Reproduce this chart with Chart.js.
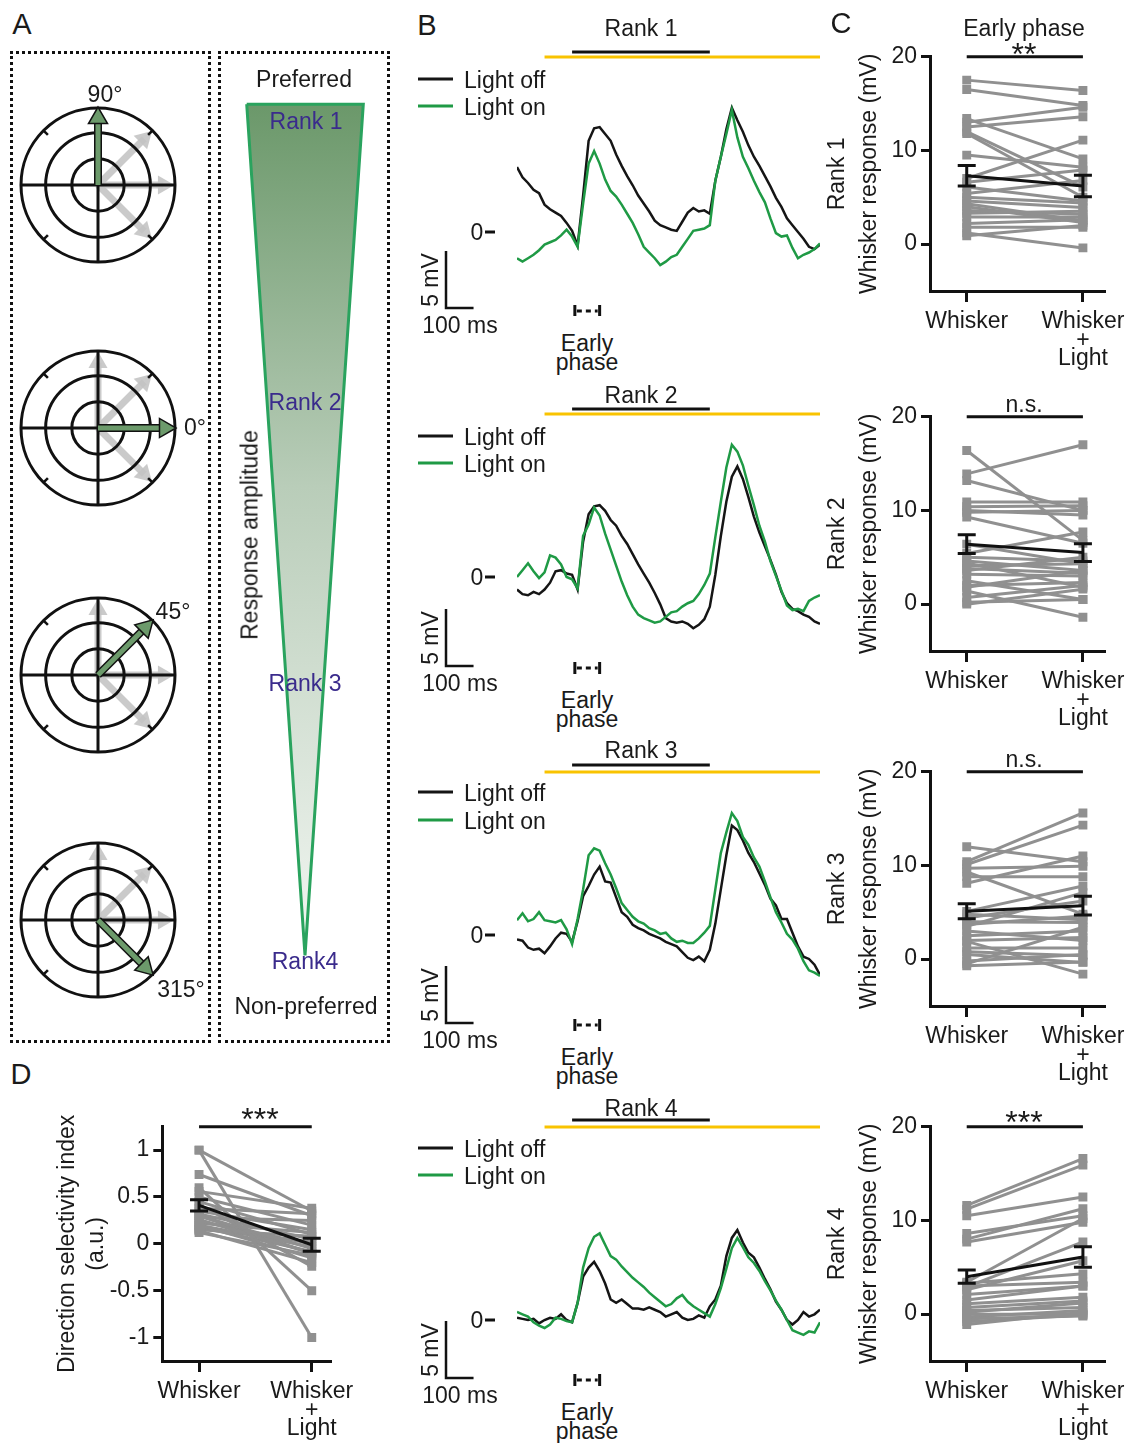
<!DOCTYPE html>
<html><head><meta charset="utf-8">
<script src="https://cdn.jsdelivr.net/npm/chart.js@4.4.1/dist/chart.umd.min.js"></script>
<style>
html,body{margin:0;padding:0;background:#fff;}
#root{position:relative;width:1132px;height:1443px;overflow:hidden;background:#fff;font-family:'Liberation Sans',Arial,Helvetica,sans-serif;color:#1a1a1a;}
canvas{position:absolute;}
.lbl{position:absolute;white-space:nowrap;line-height:1;}
.box{position:absolute;border:3px dotted #111;box-sizing:border-box;}
</style></head><body><div id="root"></div>
<script>
// ================= DATA =================
// Panel A: polar plots (direction in degrees) and wedge
const polarPreferred = [90, 0, 45, 315];
const polarDirections = [0, 45, 90, 315];
const polarRings = [0.34, 0.68, 1.0];
const polarGrayLength = 0.98;
const polarGreenLength = 1.0;
const wedgeRank = [0.94, 0.94, 3.98, 0.94];
const wedgeHalfWidth = [-1, 1, 0, -1];
const rankNames = ['Rank 1', 'Rank 2', 'Rank 3', 'Rank4'];

// Panel B: traces (time in ms, membrane potential in mV)
const time = [-200,-180,-160,-140,-120,-100,-80,-60,-40,-20,0,20,40,60,80,100,120,140,160,180,200,220,240,260,280,300,320,340,360,380,400,420,440,460,480,500,520,540,560,580,600,620,640,660,680,700,720,740,760,780,800,820,840,860,880,900];
const rank1Off = [5.7,4.8,4.3,3.7,3.4,2.4,2.0,1.7,1.4,0.8, 0.1,-1.2,3.2,8.0,9.1,9.2,8.6,8.0,6.8,5.8, 4.9,4.1,3.2,2.5,1.8,1.0,0.6,0.4,0.2,0.1, 0.9,1.7,2.1,1.8,1.9,1.6,4.5,6.6,9.0,10.9, 9.8,8.8,7.6,6.6,5.8,4.9,4.0,3.0,2.2,1.2, 0.6,0.0,-0.6,-1.3,-1.5,-1.1];
const rank1On  = [-2.3,-2.6,-2.3,-2.0,-1.6,-1.1,-0.9,-0.7,-0.3,0.2, -0.4,-1.3,2.5,6.0,7.1,6.0,4.6,3.6,3.1,2.4, 1.6,0.8,-0.2,-1.3,-1.8,-2.3,-2.9,-2.6,-2.2,-2.0, -1.3,-0.6,0.1,0.2,0.3,0.6,4.5,6.6,8.6,10.7, 8.3,6.6,5.6,4.5,3.5,2.6,1.2,-0.1,-0.4,-0.3, -1.4,-2.3,-2.0,-1.8,-1.5,-1.0];
const rank2Off = [-1.1,-1.5,-1.6,-1.3,-1.5,-1.1,-0.5,0.5,0.6,0.3, 0.2,-1.1,3.1,5.5,6.2,6.3,5.8,5.0,4.5,3.6, 2.9,2.0,1.1,0.3,-0.5,-1.4,-2.4,-3.6,-3.9,-4.0, -3.9,-4.1,-4.5,-4.2,-3.7,-2.6,0.2,3.6,6.6,8.8, 9.7,8.6,7.0,5.3,3.9,2.7,1.5,0.2,-1.3,-2.3, -2.8,-3.0,-3.3,-3.5,-3.9,-4.1];
const rank2On  = [0.0,0.6,1.2,0.5,-0.1,0.4,1.9,1.7,1.1,0.0, -0.2,-1.0,3.6,4.6,6.1,5.4,3.8,2.4,1.0,-0.4, -1.6,-2.6,-3.3,-3.6,-3.8,-4.0,-3.9,-3.5,-3.1,-3.0, -2.6,-2.3,-2.1,-1.5,-0.7,0.3,3.5,6.6,9.6,11.6, 11.0,9.8,8.0,6.3,4.5,3.1,1.4,0.1,-1.2,-2.5, -2.9,-2.8,-3.0,-2.1,-1.8,-1.6];
const rank3Off = [-0.4,-0.5,-1.1,-1.3,-1.2,-1.6,-1.0,-0.3,0.2,0.1, -0.6,1.2,3.4,4.3,5.3,6.0,4.7,4.6,3.3,2.0, 1.6,0.9,0.6,0.4,0.1,-0.1,-0.3,-0.6,-0.8,-1.0, -1.5,-2.0,-2.2,-1.9,-2.3,-1.3,1.0,4.0,7.0,9.6, 9.2,8.3,7.2,6.4,5.4,4.4,3.2,2.6,1.4,1.4, 0.2,-1.0,-1.9,-2.1,-2.6,-3.5];
const rank3On  = [1.3,1.9,1.2,1.4,2.0,1.3,1.2,1.1,1.3,0.5, -0.8,1.4,4.0,7.0,7.6,7.4,6.3,5.3,4.1,2.8, 2.2,1.6,1.2,1.0,0.6,0.4,0.1,0.2,-0.3,-0.6, -0.5,-0.7,-0.7,-0.3,0.2,0.8,4.0,7.2,9.0,10.7, 10.0,8.6,7.9,6.8,6.0,4.7,3.3,2.0,1.1,0.1, -0.4,-1.2,-2.3,-3.1,-3.3,-3.6];
const rank4Off = [0.2,0.1,0.0,0.1,-0.3,0.0,0.2,0.1,0.5,0.0, -0.2,1.5,3.8,4.6,5.1,4.3,3.2,1.8,1.5,1.8, 1.4,1.0,1.0,0.9,1.1,0.9,0.7,0.3,0.5,0.7, 0.2,0.0,0.1,0.4,0.2,1.2,1.8,3.0,5.6,7.2, 7.9,6.8,5.9,5.5,4.6,3.6,2.7,1.6,0.9,0.0, -0.4,0.0,0.7,0.3,0.5,0.9];
const rank4On  = [0.7,0.5,0.3,-0.2,-0.5,-0.7,-0.4,0.2,0.1,-0.1, -0.2,1.5,4.6,6.3,7.3,7.6,6.6,5.6,5.3,4.7, 4.2,3.7,3.3,2.9,2.4,2.0,1.6,1.2,1.4,1.9, 2.2,1.6,1.2,0.9,0.6,0.3,1.4,2.8,4.5,6.3, 7.2,6.4,5.5,5.0,4.3,3.4,2.6,1.7,0.9,0.0, -0.9,-1.1,-1.3,-1.0,-1.1,-0.2];
const whiskerWindow = [0, 500];
const lightWindow = [-100, 900];
const earlyPhase = [10, 100];
const scaleBarMs = 100;
const scaleBarMV = 5;
const legendLabels = ['Light off', 'Light on'];

// Panel C: paired whisker responses (mV)
const pairLabels = ['Whisker', ['Whisker', '+', 'Light']];
const yTicksC = [0, 10, 20];
const rank1Whisker = [17.5,16.5,13.4,13.0,12.5,12.0,11.8,9.5,6.6,6.1,5.4,4.6,4.3,3.6,2.9,1.8,1.2,0.9,7.0,5.0,3.3,4.0,2.2];
const rank1Light   = [16.4,14.8,9.1,14.6,13.6,6.1,5.0,8.2,7.9,4.6,6.8,3.9,2.5,3.2,2.9,1.8,-0.4,2.0,11.1,4.4,3.5,2.3,2.6];
const rank1Mean = [7.3, 6.2], rank1Sem = [1.1, 1.15];
const rank2Whisker = [16.4,13.9,13.2,10.9,10.4,10.0,9.8,9.3,6.4,5.4,4.6,4.4,4.1,3.6,3.2,2.5,2.0,1.8,1.4,0.7,0.2,0.0,5.0,3.8];
const rank2Light   = [6.8,17.0,10.0,10.9,10.5,9.5,10.0,6.5,4.3,7.7,3.6,1.8,4.3,5.0,3.0,0.5,2.3,3.6,-1.4,2.0,0.5,1.6,4.6,3.3];
const rank2Mean = [6.4, 5.5], rank2Sem = [1.0, 0.95];
const rank3Whisker = [12.0,10.4,10.1,9.7,8.8,8.1,9.3,5.1,4.4,4.0,3.7,3.5,2.5,2.0,1.9,1.2,0.8,0.5,-0.2,-0.5,-0.7,4.8,3.0];
const rank3Light   = [10.4,15.6,14.3,9.9,8.8,11.0,4.8,7.8,6.2,3.9,4.6,7.1,3.0,2.3,-1.6,1.2,0.35,-0.35,0.5,3.4,-0.3,4.2,2.0];
const rank3Mean = [5.1, 5.7], rank3Sem = [0.8, 1.0];
const rank4Whisker = [11.6,11.2,10.5,8.6,8.0,7.7,3.4,2.9,2.6,3.3,2.1,3.0,1.1,0.7,0.4,0.0,-0.5,-1.1,-0.8,1.5,0.2,-0.3];
const rank4Light   = [16.6,15.9,12.5,10.5,11.25,9.8,10.2,7.7,5.7,4.3,3.0,3.4,1.8,1.4,0.7,0.0,-0.2,0.2,-0.1,3.0,1.2,0.4];
const rank4Mean = [4.0, 6.1], rank4Sem = [0.7, 1.1];
const sigLabels = ['**', 'n.s.', 'n.s.', '***'];

// Panel D: direction selectivity index
const yTicksD = [-1, -0.5, 0, 0.5, 1];
const dsiWhisker = [1.0,1.0,0.74,0.6,0.56,0.5,0.45,0.42,0.38,0.35,0.32,0.3,0.28,0.26,0.24,0.22,0.2,0.18,0.16,0.14,0.12,0.2,0.3,0.15];
const dsiLight   = [0.35,-1.0,0.3,-0.5,0.38,0.2,0.1,-0.24,0.32,0.15,0.05,-0.05,0.25,-0.1,0.0,0.12,-0.15,-0.08,0.02,-0.2,-0.12,-0.03,-0.1,0.08];
const dsiMean = [0.41, -0.01], dsiSem = [0.06, 0.07];

// ================= STYLE / LAYOUT =================
const FONT = "'Liberation Sans', Arial, Helvetica, sans-serif";
const TXT = '#1a1a1a', INK = '#111';
const TRACE_GREEN = '#1f9a45', YELLOW = '#f9c300', GRAY = '#909090';
const ARROW_GREEN = '#6c9a6b', ARROW_GRAY = 'rgba(196,196,196,0.9)';
const WEDGE_EDGE = '#2aa35e', RANK_PURPLE = '#3a2b8c';
const PX_PER_MV = 11.4;

Chart.defaults.font.family = FONT;
Chart.defaults.font.size = 23;
Chart.defaults.color = TXT;
Chart.defaults.animation = false;
Chart.defaults.plugins.legend.display = false;
Chart.defaults.plugins.tooltip.enabled = false;

const root = document.getElementById('root');
function makeCanvas(left, top, w, h) {
  const c = document.createElement('canvas');
  c.width = w; c.height = h;
  c.style.left = left + 'px'; c.style.top = top + 'px';
  c.style.width = w + 'px'; c.style.height = h + 'px';
  root.appendChild(c);
  return c;
}
function addText(txt, x, y, o = {}) {
  const d = document.createElement('div');
  d.className = 'lbl';
  d.textContent = txt;
  d.style.left = x + 'px'; d.style.top = y + 'px';
  d.style.fontSize = (o.size || 23) + 'px';
  d.style.color = o.color || TXT;
  const tx = o.align === 'left' ? '0' : (o.align === 'right' ? '-100%' : '-50%');
  d.style.transform = `translate(${tx},-50%)` + (o.rotate ? ` rotate(${o.rotate}deg)` : '');
  root.appendChild(d);
}
function addBox(l, t, w, h) {
  const b = document.createElement('div');
  b.className = 'box';
  Object.assign(b.style, {left: l + 'px', top: t + 'px', width: w + 'px', height: h + 'px'});
  root.appendChild(b);
}
const baseOpts = () => ({responsive: false, maintainAspectRatio: false, animation: false, events: []});

// ================= PANEL A =================
addBox(10, 51, 201, 992);
addBox(218, 51, 172, 992);
addText('A', 22, 24, {size: 29});

const polarCentersY = [185, 428, 675, 920];
const rad = a => a * Math.PI / 180;
const HEAD = 0.13;
polarCentersY.forEach((cy, k) => {
  const c = makeCanvas(10, cy - 88, 176, 176);
  const lim = 88 / 77;
  const pref = polarPreferred[k];
  const ds = [];
  polarDirections.filter(a => a !== pref).forEach(a => {
    const L = polarGrayLength - HEAD;
    ds.push({data: [{x: 0, y: 0}, {x: L * Math.cos(rad(a)), y: L * Math.sin(rad(a))}], showLine: true,
      borderColor: ARROW_GRAY, borderWidth: 7, pointRadius: [0, 11], pointStyle: 'triangle', pointRotation: 90 - a,
      pointBackgroundColor: ARROW_GRAY, pointBorderWidth: 0, order: 6});
  });
  ds.push({data: polarRings.map(() => ({x: 0, y: 0})), showLine: false,
    pointRadius: cx => cx.chart.scales.x.getPixelForValue(polarRings[cx.dataIndex]) - cx.chart.scales.x.getPixelForValue(0),
    pointBackgroundColor: 'rgba(0,0,0,0)', pointBorderColor: INK, pointBorderWidth: 3, order: 4});
  ds.push({data: [{x: -1, y: 0}, {x: 1, y: 0}], showLine: true, borderColor: INK, borderWidth: 3, pointRadius: 0, order: 4});
  ds.push({data: [{x: 0, y: -1}, {x: 0, y: 1}], showLine: true, borderColor: INK, borderWidth: 3, pointRadius: 0, order: 4});
  [45, 135, 225, 315].forEach(a => ds.push({data: [{x: 0.92 * Math.cos(rad(a)), y: 0.92 * Math.sin(rad(a))}, {x: Math.cos(rad(a)), y: Math.sin(rad(a))}],
    showLine: true, borderColor: INK, borderWidth: 2.5, pointRadius: 0, order: 4}));
  const Lg = polarGreenLength - HEAD;
  const gp = [{x: 0, y: 0}, {x: Lg * Math.cos(rad(pref)), y: Lg * Math.sin(rad(pref))}];
  ds.push({data: gp, showLine: true, borderColor: INK, borderWidth: 8, pointRadius: 0, order: 2});
  ds.push({data: gp, showLine: true, borderColor: ARROW_GREEN, borderWidth: 5, pointRadius: [0, 11], pointStyle: 'triangle',
    pointRotation: 90 - pref, pointBackgroundColor: ARROW_GREEN, pointBorderColor: INK, pointBorderWidth: 1.5, order: 1});
  new Chart(c, {type: 'scatter', data: {datasets: ds}, options: Object.assign(baseOpts(), {
    layout: {padding: 0, autoPadding: false},
    scales: {x: {type: 'linear', display: false, min: -lim, max: lim}, y: {type: 'linear', display: false, min: -lim, max: lim}}
  })});
});
addText('90°', 105, 94);
addText('0°', 195, 427);
addText('45°', 173, 611);
addText('315°', 181, 989);

// Wedge
{
  const c = makeCanvas(220, 50, 170, 996);
  const wd = wedgeRank.map((r, i) => ({x: wedgeHalfWidth[i], y: r}));
  new Chart(c, {type: 'scatter', data: {datasets: [{
    data: wd, showLine: true, fill: 'shape', tension: 0, borderColor: WEDGE_EDGE, borderWidth: 3, pointRadius: 0,
    backgroundColor: cx => {
      const ch = cx.chart; if (!ch.chartArea) return '#b5cbb5';
      const ys = ch.scales.y;
      const g = ch.ctx.createLinearGradient(0, ys.getPixelForValue(wedgeRank[0]), 0, ys.getPixelForValue(wedgeRank[2]));
      g.addColorStop(0, '#6b986a'); g.addColorStop(0.45, '#b9cdb9'); g.addColorStop(1, '#f2f6f2');
      return g;
    }
  }]}, options: Object.assign(baseOpts(), {
    layout: {padding: 0, autoPadding: false},
    scales: {x: {type: 'linear', display: false, min: -1.458, max: 1.458},
             y: {type: 'linear', display: false, reverse: true, min: 0.7464, max: 4.3036}}
  })});
  addText('Preferred', 304, 79);
  const rankY = [121, 402, 683, 961];
  rankNames.forEach((n, i) => addText(n, i === 0 ? 306 : 305, rankY[i], {color: RANK_PURPLE}));
  addText('Non-preferred', 306, 1006);
  addText('Response amplitude', 250, 535, {rotate: -90});
}

// ================= PANEL B =================
addText('B', 427, 25, {size: 29});
const traceDecor = {
  id: 'traceDecor',
  afterDraw(chart, args, o) {
    const ctx = chart.ctx, xs = chart.scales.x, ys = chart.scales.y;
    const X = t => xs.getPixelForValue(t);
    const Yp = py => py - o.top;
    const Xp = px => px - 410;
    const seg = (x1, y1, x2, y2, col, w) => { ctx.strokeStyle = col; ctx.lineWidth = w; ctx.beginPath(); ctx.moveTo(x1, y1); ctx.lineTo(x2, y2); ctx.stroke(); };
    ctx.save(); ctx.lineCap = 'butt';
    seg(X(lightWindow[0]), Yp(o.yellowY), X(lightWindow[1]), Yp(o.yellowY), YELLOW, 3);
    seg(X(whiskerWindow[0]), Yp(o.blackY), X(whiskerWindow[1]), Yp(o.blackY), INK, 3);
    const dsOn = chart.data.datasets[0], dsOff = chart.data.datasets[1];
    seg(Xp(418), Yp(o.leg0), Xp(453), Yp(o.leg0), dsOff.borderColor, 3);
    seg(Xp(418), Yp(o.leg1), Xp(453), Yp(o.leg1), dsOn.borderColor, 3);
    const y0 = ys.getPixelForValue(0);
    seg(Xp(485), y0, Xp(495), y0, INK, 3);
    const sx = Xp(446), sb = Yp(o.sbBot);
    const vlen = ys.getPixelForValue(0) - ys.getPixelForValue(scaleBarMV);
    const hlen = X(scaleBarMs) - X(0);
    ctx.strokeStyle = INK; ctx.lineWidth = 2.5;
    ctx.beginPath(); ctx.moveTo(sx, sb - vlen); ctx.lineTo(sx, sb); ctx.lineTo(sx + hlen, sb); ctx.stroke();
    const by = Yp(o.bracketY), bx1 = X(earlyPhase[0]), bx2 = X(earlyPhase[1]);
    seg(bx1, by - 6, bx1, by + 6, INK, 3); seg(bx2, by - 6, bx2, by + 6, INK, 3);
    ctx.setLineDash([5, 4]); seg(bx1 + 2, by, bx2 - 2, by, INK, 3); ctx.setLineDash([]);
    ctx.restore();
  }
};
const bPanels = [
  {off: rank1Off, on: rank1On, title: 'Rank 1', titleY: 28, blackY: 52, yellowY: 57, leg0: 79, leg1: 106, zeroY: 232, sbBot: 308, bracketY: 311},
  {off: rank2Off, on: rank2On, title: 'Rank 2', titleY: 395, blackY: 409, yellowY: 414, leg0: 436, leg1: 463, zeroY: 577, sbBot: 666, bracketY: 668},
  {off: rank3Off, on: rank3On, title: 'Rank 3', titleY: 750, blackY: 765, yellowY: 772, leg0: 792, leg1: 820, zeroY: 935, sbBot: 1023, bracketY: 1025},
  {off: rank4Off, on: rank4On, title: 'Rank 4', titleY: 1108, blackY: 1120, yellowY: 1127, leg0: 1148, leg1: 1175, zeroY: 1320, sbBot: 1378, bracketY: 1380},
];
bPanels.forEach(p => {
  const top = p.titleY - 22, H = 310;
  const yMax = (p.zeroY - top) / PX_PER_MV;
  const yMin = yMax - H / PX_PER_MV;
  const c = makeCanvas(410, top, 420, H);
  new Chart(c, {type: 'scatter', data: {datasets: [
    {label: legendLabels[1], data: time.map((t, i) => ({x: t, y: p.on[i]})), showLine: true, borderColor: TRACE_GREEN, borderWidth: 2.5, pointRadius: 0, order: 0},
    {label: legendLabels[0], data: time.map((t, i) => ({x: t, y: p.off[i]})), showLine: true, borderColor: '#151515', borderWidth: 2.5, pointRadius: 0, order: 1},
  ]}, options: Object.assign(baseOpts(), {
    layout: {padding: {left: 107, right: 10, top: 0, bottom: 0}, autoPadding: false},
    scales: {x: {type: 'linear', display: false, min: -200, max: 900}, y: {type: 'linear', display: false, min: yMin, max: yMax}},
    plugins: {legend: {display: false}, tooltip: {enabled: false},
      traceDecor: {top: top, blackY: p.blackY, yellowY: p.yellowY, leg0: p.leg0, leg1: p.leg1, sbBot: p.sbBot, bracketY: p.bracketY}}
  }), plugins: [traceDecor]});
  addText(p.title, 641, p.titleY);
  addText(legendLabels[0], 464, p.leg0 + 1, {align: 'left'});
  addText(legendLabels[1], 464, p.leg1 + 1, {align: 'left'});
  addText('0', 477, p.zeroY);
  addText('5 mV', 430, p.sbBot - 28, {rotate: -90});
  addText('100 ms', 460, p.sbBot + 17);
  addText('Early', 587, p.bracketY + 32);
  addText('phase', 587, p.bracketY + 51);
});

// ================= PANELS C & D =================
const pairedDecor = {
  id: 'pairedDecor',
  afterDatasetsDraw(chart, args, o) {
    const ctx = chart.ctx, xs = chart.scales.x, ys = chart.scales.y;
    ctx.save(); ctx.strokeStyle = INK; ctx.lineWidth = 3; ctx.lineCap = 'butt';
    chart.data.datasets.forEach(ds => {
      if (!ds.sem) return;
      ds.data.forEach((p, i) => {
        const x = xs.getPixelForValue(p.x);
        const y1 = ys.getPixelForValue(p.y - ds.sem[i]), y2 = ys.getPixelForValue(p.y + ds.sem[i]);
        ctx.beginPath();
        ctx.moveTo(x, y1); ctx.lineTo(x, y2);
        ctx.moveTo(x - 9, y1); ctx.lineTo(x + 9, y1);
        ctx.moveTo(x - 9, y2); ctx.lineTo(x + 9, y2);
        ctx.stroke();
      });
    });
    const y = ys.getPixelForValue(o.sigLevel);
    ctx.beginPath(); ctx.moveTo(xs.getPixelForValue(1), y); ctx.lineTo(xs.getPixelForValue(2), y); ctx.stroke();
    ctx.restore();
  }
};
function pairChart(cfg) {
  const c = makeCanvas(cfg.left, cfg.top, cfg.width, cfg.height);
  const ds = cfg.whisker.map((w, i) => ({
    data: [{x: 1, y: w}, {x: 2, y: cfg.light[i]}], showLine: true, borderColor: GRAY, borderWidth: 3,
    pointStyle: 'rect', pointRadius: 6.3, pointBackgroundColor: GRAY, pointBorderColor: GRAY, pointBorderWidth: 0, order: 2
  }));
  ds.push({data: [{x: 1, y: cfg.mean[0]}, {x: 2, y: cfg.mean[1]}], sem: cfg.sem, showLine: true, borderColor: INK, borderWidth: 3, pointRadius: 0, order: 0});
  const gridCfg = tl => ({display: true, drawOnChartArea: false, drawTicks: true, tickLength: tl, tickWidth: 3, tickColor: INK});
  new Chart(c, {type: 'scatter', data: {datasets: ds}, options: Object.assign(baseOpts(), {
    layout: {padding: {top: cfg.padTop, right: cfg.padRight, left: 0, bottom: 0}, autoPadding: false},
    scales: {
      x: {type: 'linear', min: cfg.xMin, max: cfg.xMax,
        afterBuildTicks: s => { s.ticks = [{value: 1}, {value: 2}]; },
        afterFit: s => { s.height = cfg.xAxisH; s.paddingLeft = 0; s.paddingRight = 0; },
        ticks: {autoSkip: false, maxRotation: 0, minRotation: 0, padding: cfg.xTickPad, color: TXT, font: {size: 23, lineHeight: 0.82},
          callback: v => (v === 1 ? pairLabels[0] : pairLabels[1])},
        grid: gridCfg(11), border: {display: true, color: INK, width: 3}},
      y: {type: 'linear', min: cfg.yMin, max: cfg.yMax,
        afterBuildTicks: s => { s.ticks = cfg.yTicks.map(v => ({value: v})); },
        afterFit: s => { s.width = cfg.yAxisW; s.paddingTop = 0; s.paddingBottom = 0; },
        ticks: {padding: 4, color: TXT, font: {size: 23}, callback: v => String(v)},
        grid: gridCfg(9), border: {display: true, color: INK, width: 3},
        title: {display: true, text: cfg.yTitle, color: TXT, font: {size: 23, lineHeight: cfg.titleLH}, padding: {top: cfg.titlePad, bottom: 0}}}
    },
    plugins: {legend: {display: false}, tooltip: {enabled: false}, pairedDecor: {sigLevel: cfg.yMax}}
  }), plugins: [pairedDecor]});
}

addText('C', 841, 23, {size: 29});
addText('Early phase', 1024, 28);
const cPanels = [
  {w: rank1Whisker, l: rank1Light, mean: rank1Mean, sem: rank1Sem, y20: 56.7},
  {w: rank2Whisker, l: rank2Light, mean: rank2Mean, sem: rank2Sem, y20: 416.7},
  {w: rank3Whisker, l: rank3Light, mean: rank3Mean, sem: rank3Sem, y20: 771.7},
  {w: rank4Whisker, l: rank4Light, mean: rank4Mean, sem: rank4Sem, y20: 1126.7},
];
const sigTextY = [54, 404, 759, 1122];
cPanels.forEach((p, i) => {
  const top = Math.round(p.y20 - 56);
  pairChart({left: 820, top: top, width: 312, height: 380, padTop: p.y20 - top, padRight: 27,
    yAxisW: 110, xAxisH: 90, xTickPad: 10, xMin: 0.684, xMax: 2.19, yMin: -5, yMax: 20, yTicks: yTicksC,
    yTitle: [['Rank 1', 'Rank 2', 'Rank 3', 'Rank 4'][i], 'Whisker response (mV)'], titleLH: 1.39, titlePad: 2,
    whisker: p.w, light: p.l, mean: p.mean, sem: p.sem});
  const isStar = sigLabels[i].indexOf('*') >= 0;
  addText(sigLabels[i], 1024, sigTextY[i], {size: isStar ? 32 : 23});
});

addText('D', 21, 1074, {size: 29});
pairChart({left: 40, top: 1070, width: 320, height: 373, padTop: 56.7, padRight: 28.3,
  yAxisW: 122.3, xAxisH: 82, xTickPad: 10, xMin: 0.674, xMax: 2.177, yMin: -1.25, yMax: 1.25, yTicks: yTicksD,
  yTitle: ['Direction selectivity index', '(a.u.)'], titleLH: 1.26, titlePad: 13.5,
  whisker: dsiWhisker, light: dsiLight, mean: dsiMean, sem: dsiSem});
addText('***', 260, 1119, {size: 32});
</script></body></html>
